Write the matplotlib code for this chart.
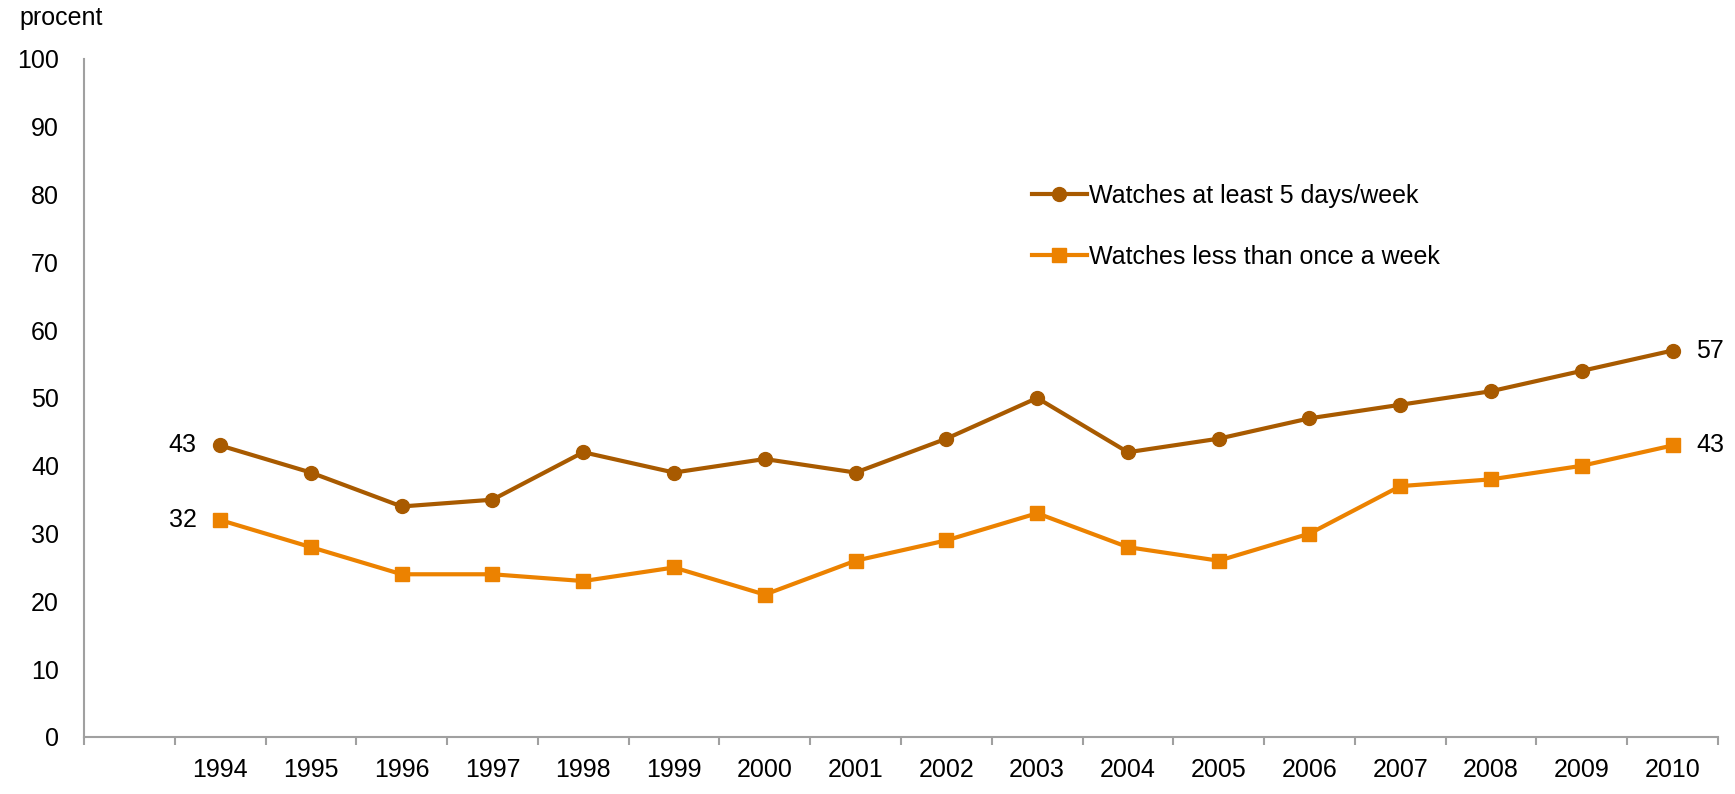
import numpy as np
import matplotlib
matplotlib.use("Agg")
from matplotlib import pyplot as plt

years = ["1994", "1995", "1996", "1997", "1998", "1999", "2000", "2001", "2002",
         "2003", "2004", "2005", "2006", "2007", "2008", "2009", "2010"]
daily = [43, 39, 34, 35, 42, 39, 41, 39, 44, 50, 42, 44, 47, 49, 51, 54, 57]
rarely = [32, 28, 24, 24, 23, 25, 21, 26, 29, 33, 28, 26, 30, 37, 38, 40, 43]
label_daily = "Watches at least 5 days/week"
label_rarely = "Watches less than once a week"

plt.rcParams['font.family'] = ['Liberation Sans', 'DejaVu Sans']
fs = 18
dark = '#A85A00'
orange = '#EC8200'
grey = '#A0A0A0'

fig = plt.figure(figsize=(17.35, 7.94), dpi=100)
ax = fig.add_axes([0.0484, 0.0718, 0.9418, 0.8539])

x = np.arange(len(years))
ax.plot(x, daily, color=dark, lw=3, marker='o', ms=10, label=label_daily)
ax.plot(x, rarely, color=orange, lw=3, marker='s', ms=10.5, label=label_rarely)

# end labels
ax.annotate(str(daily[0]), (x[0], daily[0]), xytext=(-17, 0), textcoords='offset points',
            ha='right', va='center', fontsize=fs)
ax.annotate(str(rarely[0]), (x[0], rarely[0]), xytext=(-17, 0), textcoords='offset points',
            ha='right', va='center', fontsize=fs)
ax.annotate(str(daily[-1]), (x[-1], daily[-1]), xytext=(17, 0), textcoords='offset points',
            ha='left', va='center', fontsize=fs)
ax.annotate(str(rarely[-1]), (x[-1], rarely[-1]), xytext=(17, 0), textcoords='offset points',
            ha='left', va='center', fontsize=fs)

# one empty slot before the first year
ax.set_xlim(-1.5, len(years) - 0.5)
ax.set_ylim(0, 100)
ax.set_yticks(np.arange(0, 101, 10))
ax.tick_params(axis='y', length=0, pad=18, labelsize=fs)
ax.set_xticks(x)
ax.set_xticklabels(years)
ax.set_xticks(np.arange(-1.5, len(years)), minor=True)
ax.tick_params(axis='x', which='major', length=0, pad=15, labelsize=fs)
ax.tick_params(axis='x', which='minor', length=6, width=1.5, color=grey)

for s in ['top', 'right']:
    ax.spines[s].set_visible(False)
for s in ['left', 'bottom']:
    ax.spines[s].set_color(grey)
    ax.spines[s].set_linewidth(1.5)

ax.legend(loc='center left', bbox_to_anchor=(0.58, 0.753), frameon=False, fontsize=fs,
          handlelength=2.2, handletextpad=0.1, labelspacing=1.5, borderpad=0, borderaxespad=0)

fig.text(19 / 1735, 1 - 18 / 794, "procent", fontsize=fs, ha='left', va='center')

fig.savefig("out.png", dpi=100)
